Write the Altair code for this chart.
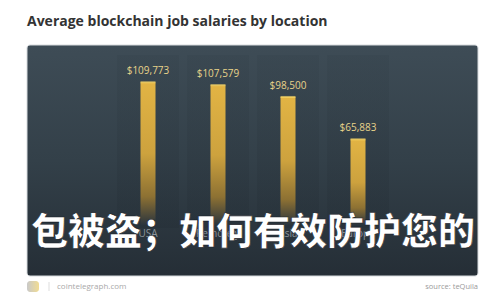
import altair as alt
import pandas as pd

# Average blockchain job salaries (USD) by location
locations = ["USA", "Remotely", "Asia", "Europe"]
salaries = [109773, 107579, 98500, 65883]

title_text = "Average blockchain job salaries by location"
overlay_text = "包被盗；如何有效防护您的"
site_text = "cointelegraph.com"
source_text = "source: teQuila"

df = pd.DataFrame({"location": locations, "salary": salaries})
one = alt.Data(values=[{}])

x_scale = alt.Scale(domain=locations, range=[113, 393], paddingInner=0, paddingOuter=0)
y_scale = alt.Scale(domain=[0, 110000], range=[225, 82])

x_enc = alt.X("location:N", scale=x_scale, axis=None, sort=locations)

# dark panel behind the bars
panel = alt.Chart(one).mark_rect(
    cornerRadius=3,
    stroke="#d6dadd",
    strokeWidth=1,
    color=alt.LinearGradient(
        gradient="linear", x1=0, x2=0, y1=0, y2=1,
        stops=[alt.GradientStop(color="#3e4c56", offset=0),
               alt.GradientStop(color="#334049", offset=0.5),
               alt.GradientStop(color="#252e36", offset=1)],
    ),
).encode(x=alt.value(27), x2=alt.value(478), y=alt.value(45), y2=alt.value(276))

# faint column strips
strips = alt.Chart(df).mark_bar(
    size=62,
    color=alt.LinearGradient(
        gradient="linear", x1=0, x2=0, y1=0, y2=1,
        stops=[alt.GradientStop(color="#34414a", offset=0),
               alt.GradientStop(color="#222b33", offset=1)],
    ),
    opacity=0.3,
).encode(x=x_enc, y=alt.value(55), y2=alt.value(228))

bars = alt.Chart(df).mark_bar(
    size=15,
    color=alt.LinearGradient(
        gradient="linear", x1=0, x2=0, y1=0, y2=1,
        stops=[alt.GradientStop(color="#e2b444", offset=0),
               alt.GradientStop(color="#cda23e", offset=0.5),
               alt.GradientStop(color="#8d7133", offset=0.8),
               alt.GradientStop(color="#2a343d", offset=1)],
    ),
).encode(
    x=x_enc,
    y=alt.Y("salary:Q", scale=y_scale, axis=None),
    y2=alt.datum(0),
)

caps = alt.Chart(df).mark_tick(size=15, thickness=2, color="#f8d768").encode(
    x=x_enc, y=alt.Y("salary:Q", scale=y_scale, axis=None)
)

value_labels = alt.Chart(df).mark_text(
    dy=-11, fontSize=10, font="Open Sans", color="#e8d38a"
).encode(
    x=x_enc,
    y=alt.Y("salary:Q", scale=y_scale, axis=None),
    text=alt.Text("salary:Q", format="$,.0f"),
)

cat_labels = alt.Chart(df).mark_text(
    fontSize=10, font="Open Sans", color="#8d959c"
).encode(x=x_enc, y=alt.value(234), text="location:N")

title = alt.Chart(one).mark_text(
    align="left", baseline="middle", fontSize=14, fontWeight="bold",
    font="Open Sans", color="#333333", text=title_text,
).encode(x=alt.value(27), y=alt.value(22))

overlay = alt.Chart(one).mark_text(
    align="center", baseline="middle", fontSize=37, fontWeight=900,
    font="Noto Sans CJK SC", color="#ffffff", stroke="#1b2229", strokeWidth=0.6,
    text=overlay_text,
).encode(x=alt.value(253), y=alt.value(234))

logo = alt.Chart(one).mark_rect(
    cornerRadius=3,
    color=alt.LinearGradient(
        gradient="linear", x1=0, x2=1, y1=0, y2=0,
        stops=[alt.GradientStop(color="#c9c9c9", offset=0),
               alt.GradientStop(color="#f1dc93", offset=1)],
    ),
).encode(x=alt.value(27), x2=alt.value(39), y=alt.value(281), y2=alt.value(292))

divider = alt.Chart(one).mark_rule(color="#dddddd").encode(
    x=alt.value(49), y=alt.value(282), y2=alt.value(291)
)

site = alt.Chart(one).mark_text(
    align="left", baseline="middle", fontSize=8, font="Open Sans",
    color="#a9a9a9", text=site_text,
).encode(x=alt.value(57), y=alt.value(287))

source = alt.Chart(one).mark_text(
    align="right", baseline="middle", fontSize=7.5, font="Open Sans",
    color="#9a9a9a", text=source_text,
).encode(x=alt.value(478), y=alt.value(287))

chart = alt.layer(
    panel, strips, bars, caps, value_labels, cat_labels,
    title, overlay, logo, divider, site, source,
).properties(
    width=500, height=300, padding=0,
    autosize=alt.AutoSizeParams(type="none"),
    background="#ffffff",
).configure_view(stroke=None)

chart.save("out.html", embed_options={"renderer": "svg", "actions": False})
